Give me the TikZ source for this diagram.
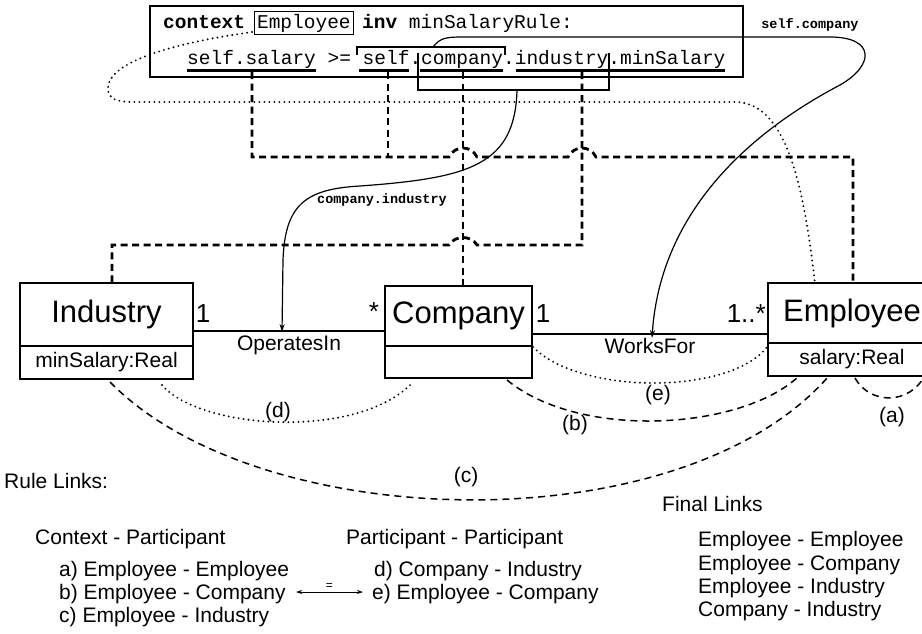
\documentclass[tikz,border=0pt]{standalone}
\usepackage{fontspec}
\setmainfont{Liberation Sans}
\newfontfamily\codefont{Liberation Mono}
\usetikzlibrary{arrows.meta}

\begin{document}
\begin{tikzpicture}[x=1pt,y=-1pt,
  code/.style={font=\codefont\fontsize{19.5}{22}\selectfont, inner sep=0pt, anchor=base west},
  navlabel/.style={font=\codefont\bfseries\fontsize{13.5}{15}\selectfont, inner sep=0pt},
  bar/.style={line width=3pt},
  bracket/.style={line width=1.1pt},
  trace/.style={line width=2.8pt, dash pattern=on 7pt off 4.5pt},
  ctxlink/.style={line width=2.1pt, line cap=round, dash pattern=on 0pt off 5pt},
  rulelink/.style={line width=1.5pt, dash pattern=on 7pt off 5pt},
  navpath/.style={line width=1.2pt, -{Stealth[length=8pt,width=5pt]}},
  clsname/.style={draw, line width=2pt, outer sep=0pt, inner sep=0pt, font=\fontsize{31}{36}\selectfont},
  clsattr/.style={draw, line width=2pt, outer sep=0pt, inner sep=0pt, font=\fontsize{21}{24}\selectfont},
  assoc/.style={line width=1.5pt},
  mult/.style={font=\fontsize{26}{30}\selectfont, inner sep=0pt},
  txt/.style={font=\fontsize{21}{24}\selectfont, inner sep=0pt, anchor=base west}
]
\useasboundingbox (0,0) rectangle (922,633);

% ---------------- OCL rule ----------------
\node[draw, line width=1.6pt, minimum width=593pt, minimum height=71pt, inner sep=0pt] (rulebox) at (446.5,41.5) {};

\node[code] (kwctx) at (163,28) {\bfseries context};
\node[code, draw, line width=0.9pt, inner xsep=3pt, inner ysep=2pt, text height=15pt, text depth=4pt] (ctxemp) at (253.6,28) {Employee};
\node[code] (kwinv) at (362,28) {\bfseries inv};
\node[code] (rulename) at (408.7,28) {minSalaryRule:};

\node[code] (tsalary) at (187,64) {self.salary};
\node[code] (tge) at (327.4,64) {>=};
\node[code] (tself) at (362.5,64) {self};
\node[code] (tdota) at (409.3,64) {.};
\node[code] (tcompany) at (421,64) {company};
\node[code] (tdotb) at (502.9,64) {.};
\node[code] (tindustry) at (514.6,64) {industry};
\node[code] (tdotc) at (608.2,64) {.};
\node[code] (tminsal) at (619.9,64) {minSalary};

% participant bars
\draw[bar] (187,70) -- (316,70);
\draw[bar] (359,70) -- (409,70);
\draw[bar] (420,70) -- (503,70);
\draw[bar] (516,70) -- (725,70);

% navigation brackets
\draw[bracket] (357,55) -- (357,47) -- (505,47) -- (505,55);
\draw[bracket] (418,53) -- (418,90) -- (609,90) -- (609,53);

% ---------------- classes ----------------
\node[clsname, minimum width=173pt, minimum height=63pt] (industry) at (106.5,314.5) {Industry};
\node[clsattr, minimum width=173pt, minimum height=33pt, anchor=north] (industryattr) at (industry.south) {minSalary:Real};

\node[clsname, minimum width=147pt, minimum height=60pt] (company) at (458.5,316) {Company};
\node[clsattr, minimum width=147pt, minimum height=32pt, anchor=north] (companyattr) at (company.south) {};

\node[clsname, minimum width=168pt, minimum height=60pt] (employee) at (852,313) {Employee};
\node[clsattr, minimum width=168pt, minimum height=33pt, anchor=north] (employeeattr) at (employee.south) {salary:Real};

% associations
\draw[assoc] (industry.east |- 0,331) -- (company.west |- 0,331)
  node[midway, below=4pt, font=\fontsize{21}{24}\selectfont, inner sep=0pt] (opin) {OperatesIn};
\draw[assoc] (company.east |- 0,334) -- (employee.west |- 0,334)
  node[midway, below=4pt, font=\fontsize{21}{24}\selectfont, inner sep=0pt] (worksfor) {WorksFor};
\node[mult] (m1) at (203,314) {1};
\node[mult] (m2) at (374,312) {*};
\node[mult] (m3) at (543,314) {1};
\node[mult, anchor=east] (m4) at (766,314) {1..*};

% ---------------- trace links ----------------
\draw[trace] (252,72) -- (252,157) -- (449,157) .. controls (455,145) and (471,145) .. (477,157)
  -- (568,157) .. controls (574,145) and (590,145) .. (596,157) -- (853,157) -- (853,0 |- employee.north);
\draw[trace] (388,72) -- (388,157);
\draw[trace] (463,72) -- (463,0 |- company.north);
\draw[trace] (582,72) -- (582,245) -- (477,245) .. controls (471,235) and (455,235) .. (449,245)
  -- (112,245) -- (112,0 |- industry.north);

% context variable link
\draw[ctxlink] (252,32) .. controls (160,45) and (108,65) .. (108,88)
  .. controls (108,100) and (118,102) .. (135,102) -- (735,102)
  .. controls (790,102) and (805,200) .. (815,0 |- employee.north);

% navigation paths
\draw[navpath] (433,47) .. controls (440,38) and (446,37) .. (462,37) -- (830,37)
  .. controls (875,37) and (875,65) .. (840,85)
  .. controls (745,135) and (660,215) .. (652,0 |- worksfor.north);
\node[navlabel] (navself) at (810,25) {self.company};

\draw[navpath] (517,90) .. controls (515,165) and (470,178) .. (360,186)
  .. controls (305,189) and (285,205) .. (283,260) -- (282,332);
\node[navlabel] (navcomp) at (382,200) {company.industry};

% ---------------- rule links ----------------
\draw[ctxlink] (162,385) .. controls (200,430) and (360,440) .. (413,382);
\node[txt, anchor=center] (ld) at (278,412) {(d)};
\draw[ctxlink] (533,347) .. controls (580,395) and (730,395) .. (767,347);
\node[txt, anchor=center] (le) at (658,395) {(e)};
\draw[rulelink] (507,380) .. controls (580,440) and (740,430) .. (798,377);
\node[txt, anchor=center] (lb) at (575,425) {(b)};
\draw[rulelink] (110,382) .. controls (260,535) and (680,545) .. (828,377);
\node[txt, anchor=center] (lc) at (466,477) {(c)};
\draw[rulelink] (855,378) .. controls (870,405) and (910,405) .. (925,375);
\node[txt, anchor=center] (la) at (892,417) {(a)};

% ---------------- legend ----------------
\node[txt] (rl) at (4,488) {Rule Links:};
\node[txt] (cp) at (35,544) {Context - Participant};
\node[txt] (ra) at (59,576) {a) Employee - Employee};
\node[txt] (rb) at (59,599) {b) Employee - Company};
\node[txt] (rc) at (59,622) {c) Employee - Industry};
\node[txt] (pp) at (346,544) {Participant - Participant};
\node[txt] (rd) at (374,576) {d) Company - Industry};
\node[txt] (re) at (372,599) {e) Employee - Company};
\coordinate (eqL) at (296,592);
\coordinate (eqR) at (363,592);
\draw[line width=1pt, {Stealth[length=6pt,width=4pt]}-{Stealth[length=6pt,width=4pt]}]
  (eqL) -- (eqR)
  node[pos=0.5, above=2pt, inner sep=0pt, font=\fontsize{12}{14}\selectfont] (eq) {=};

\node[txt] (fl) at (662,511) {Final Links};
\node[txt] (fa) at (698,546) {Employee - Employee};
\node[txt] (fb) at (698,570) {Employee - Company};
\node[txt] (fc) at (698,593) {Employee - Industry};
\node[txt] (fd) at (698,616) {Company - Industry};
\end{tikzpicture}
\end{document}
